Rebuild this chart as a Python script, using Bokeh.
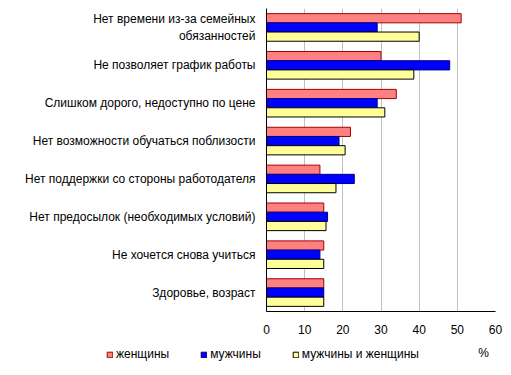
from bokeh.plotting import figure
from bokeh.models import ColumnDataSource, FactorRange, Range1d, FixedTicker, Legend, LegendItem, Label, Grid
from bokeh.layouts import column, row
from bokeh.transform import dodge
from bokeh.embed import file_html
from bokeh.resources import INLINE

categories = [
    "Нет времени из-за семейных\nобязанностей",
    "Не позволяет график работы",
    "Слишком дорого, недоступно по цене",
    "Нет возможности обучаться поблизости",
    "Нет поддержки со стороны работодателя",
    "Нет предосылок (необходимых условий)",
    "Не хочется снова учиться",
    "Здоровье, возраст",
]
women = [51, 30, 34, 22, 14, 15, 15, 15]
men = [29, 48, 29, 19, 23, 16, 14, 15]
both = [40, 38.6, 31, 20.6, 18.2, 15.6, 15, 15]
x_ticks = [0, 10, 20, 30, 40, 50, 60]
series_names = ["женщины", "мужчины", "мужчины и женщины"]
unit_label = "%"

FONT = "Liberation Sans"
colors = ["#FF8080", "#0000FF", "#FFFF99"]
outlines = ["#A00000", "#000080", "#000000"]

src = ColumnDataSource(dict(cat=categories, women=women, men=men, both=both))

p = figure(width=511, height=341, output_backend="svg", toolbar_location=None,
           y_range=FactorRange(*categories[::-1], range_padding=0),
           x_range=Range1d(0, 60),
           min_border_left=266, min_border_right=16, min_border_top=8, min_border_bottom=30)
p.outline_line_color = None
p.background_fill_color = "white"
p.border_fill_color = "white"

bh = 0.243
for col, off, c, lc in zip(["women", "men", "both"], [bh, 0, -bh], colors, outlines):
    p.hbar(y=dodge("cat", off, range=p.y_range), right=col, left=0, height=bh, source=src,
           fill_color=c, line_color=lc, line_width=1)

# grid
p.ygrid.grid_line_color = None
p.xgrid.ticker = FixedTicker(ticks=x_ticks[1:-1])
p.xgrid.grid_line_color = "#C0C0C0"
p.xgrid.grid_line_width = 1
edge = Grid(dimension=0, ticker=FixedTicker(ticks=x_ticks[-1:]), grid_line_color="#808080",
            grid_line_width=1)
p.add_layout(edge)

# x axis
p.xaxis.ticker = FixedTicker(ticks=x_ticks)
p.xaxis.axis_line_color = "black"
p.xaxis.major_tick_line_color = None
p.xaxis.minor_tick_line_color = None
p.xaxis.major_tick_out = 0
p.xaxis.major_label_standoff = 13
p.xaxis.major_label_text_font = FONT
p.xaxis.major_label_text_font_size = "12px"
p.xaxis.major_label_text_color = "black"

# y axis
p.yaxis.axis_line_color = "black"
p.yaxis.major_tick_line_color = None
p.yaxis.minor_tick_line_color = None
p.yaxis.major_tick_out = 0
p.yaxis.major_label_standoff = 11
p.yaxis.major_label_text_font = FONT
p.yaxis.major_label_text_font_size = "12px"
p.yaxis.major_label_text_color = "black"

# legend strip
q = figure(width=511, height=34, output_backend="svg", toolbar_location=None,
           x_axis_type=None, y_axis_type=None,
           x_range=Range1d(0, 511), y_range=Range1d(0, 34),
           min_border_left=0, min_border_right=0, min_border_top=0, min_border_bottom=0)
q.outline_line_color = None
q.grid.visible = False
items = []
for name, c, lc in zip(series_names, colors, outlines):
    r = q.hbar(y=[-10], right=[-10], left=[-20], height=1, fill_color=c, line_color=lc, line_width=1)
    items.append(LegendItem(label=name, renderers=[r]))

legend = Legend(items=items, location=(106, 14), orientation="horizontal",
                glyph_width=7, glyph_height=7, label_height=12, label_standoff=3,
                spacing=31, padding=0, margin=0,
                border_line_color=None, background_fill_alpha=0,
                label_text_font=FONT, label_text_font_size="12px", label_text_color="black")
q.add_layout(legend, "center")
q.add_layout(Label(x=483, y=23, text=unit_label, text_align="center", text_baseline="middle",
                   text_font=FONT, text_font_size="12px", text_color="black"))

open("out.html", "w").write(file_html(column(p, row(q), spacing=0), INLINE))
